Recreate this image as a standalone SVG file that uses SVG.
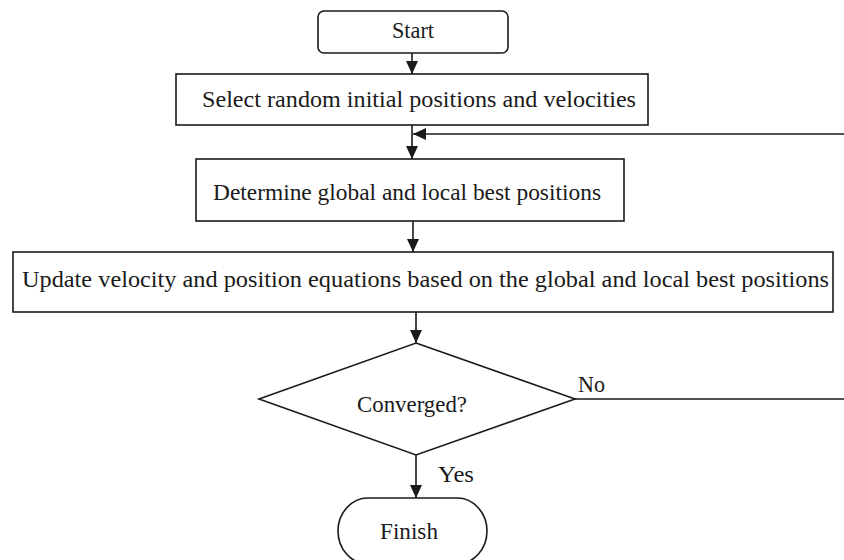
<svg xmlns="http://www.w3.org/2000/svg" width="844" height="560" viewBox="0 0 844 560">
<style>
.box{fill:#fff;stroke:#1a1a1a;stroke-width:1.6}
.ln{fill:none;stroke:#1a1a1a;stroke-width:1.6}
text{font-family:"Liberation Serif","Times New Roman",serif;font-size:22.5px;fill:#1a1a1a}
</style>
<defs>
<marker id="ahl" viewBox="0 0 13 12" refX="13" refY="6" markerWidth="13" markerHeight="12" markerUnits="userSpaceOnUse" orient="auto">
<path d="M0,0 L13,6 L0,12 z" fill="#1a1a1a"/>
</marker>
</defs>
<g id="connectors">
<line class="ln" x1="412" y1="53" x2="412" y2="74" marker-end="url(#ahl)"/>
<line class="ln" x1="412" y1="125" x2="412" y2="159" marker-end="url(#ahl)"/>
<line class="ln" x1="844" y1="134" x2="413" y2="134" marker-end="url(#ahl)"/>
<line class="ln" x1="413" y1="221" x2="413" y2="252" marker-end="url(#ahl)"/>
<line class="ln" x1="416" y1="312" x2="416" y2="343" marker-end="url(#ahl)"/>
<line class="ln" x1="575" y1="399" x2="844" y2="399"/>
<line class="ln" x1="416" y1="455" x2="416" y2="498" marker-end="url(#ahl)"/>
</g>
<g id="start">
<rect class="box" x="318" y="11" width="190" height="42" rx="6"/>
<text x="392" y="38" textLength="42" lengthAdjust="spacingAndGlyphs">Start</text>
</g>
<g id="select">
<rect class="box" x="176" y="74" width="472" height="51"/>
<text x="202" y="107" textLength="434" lengthAdjust="spacingAndGlyphs">Select random initial positions and velocities</text>
</g>
<g id="determine">
<rect class="box" x="196" y="159" width="428" height="62"/>
<text x="213" y="200" textLength="388" lengthAdjust="spacingAndGlyphs">Determine global and local best positions</text>
</g>
<g id="update">
<rect class="box" x="13" y="252" width="820" height="60"/>
<text x="22" y="287" textLength="807" lengthAdjust="spacingAndGlyphs">Update velocity and position equations based on the global and local best positions</text>
</g>
<g id="converged">
<polygon class="box" points="416,343 575,399 416,455 259,399"/>
<text x="357" y="412" textLength="110" lengthAdjust="spacingAndGlyphs">Converged?</text>
<text x="578" y="392" textLength="27" lengthAdjust="spacingAndGlyphs">No</text>
<text x="438" y="482" textLength="36" lengthAdjust="spacingAndGlyphs">Yes</text>
</g>
<g id="finish">
<rect class="box" x="338" y="498" width="149" height="66" rx="30" ry="33"/>
<text x="380" y="539" textLength="58" lengthAdjust="spacingAndGlyphs">Finish</text>
</g>
</svg>
